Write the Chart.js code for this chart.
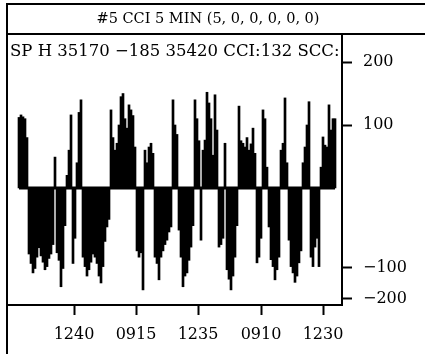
<!DOCTYPE html>
<html lang="en">
<head>
  <meta charset="UTF-8" />
  <title>#5 CCI 5 MIN</title>
  <script src="https://cdn.jsdelivr.net/npm/chart.js"></script>
  <style>
    * { margin: 0; padding: 0; box-sizing: border-box; }
    body { background: #fff; }
    canvas { display: block; }
  </style>
</head>
<body>
  <canvas id="cciChart" width="425" height="354"></canvas>

  <script>
    // one bar per 5 minute slot, in drawn units (the scale is squeezed below zero)
    const cciValues = [
      112, 116, 113, 110, 80, -105, -120, -135, -128, -110,
      -95, -108, -118, -130, -125, -112, -105, -90, 49, -103,
      -115, -157, -128, -60, 20, 60, 116, -120, -80, 40,
      120, 140, -110, -125, -140, -130, -118, -105, -110, -120,
      -140, -151, -125, -85, -62, -50, 124, 80, 60, 71,
      100, 145, 150, 110, 95, 132, 124, 115, 65, -100,
      -110, -103, -162, 60, 40, 65, 71, 55, -110, -120,
      -146, -110, -100, -90, -83, -70, -62, 140, 100, 85,
      -67, -110, -157, -140, -135, -115, -94, -60, 140, 110,
      75, -83, 60, 76, 152, 135, 110, 52, 148, 92,
      -94, -90, -80, 71, -130, -145, -162, -140, -110, -60,
      130, 75, 71, 65, 80, 60, 70, 95, 55, -119,
      -110, -80, 124, 110, 33, -62, -114, -125, -146, -130,
      -110, 60, 71, 143, 40, -83, -125, -135, -150, -140,
      -119, -100, 40, 65, 100, 137, -110, -125, -94, -80,
      -125, 33, 81, 68, 65, 132, 92, 110, 110
    ];

    const xTickPos = [27.5, 58.5, 89.5, 121, 152];
    const xTickLabels = ['1240', '0915', '1235', '0910', '1230'];

    const yTickPos = [200, 100, -127, -176];
    const yTickLabels = ['200', '100', '\u2212100', '\u2212200'];

    const headerText = 'SP H 35170 \u2212185 35420 CCI:132 SCC:';
    const titleText = '#5 CCI 5 MIN (5, 0, 0, 0, 0, 0)';

    const barData = cciValues.map((v, i) => ({ x: i, y: v }));
    const zeroLine = cciValues.map((v, i) => ({ x: i, y: 0 }));

    // frame, title box and the text line at the top of the plot
    const framePlugin = {
      id: 'frame',
      afterDraw(chart) {
        const ctx = chart.ctx;
        ctx.save();
        ctx.strokeStyle = '#000';
        ctx.lineWidth = 2;
        ctx.beginPath();
        ctx.moveTo(7, 354); ctx.lineTo(7, 4); ctx.lineTo(425, 4);
        ctx.moveTo(7, 34); ctx.lineTo(425, 34);
        ctx.stroke();

        ctx.fillStyle = '#000';
        ctx.textBaseline = 'middle';
        ctx.textAlign = 'center';
        ctx.font = '14.5px "DejaVu Serif"';
        ctx.fillText(titleText, 208, 19);

        ctx.textAlign = 'left';
        ctx.font = '16.5px "DejaVu Serif"';
        ctx.fillText(headerText, 10, 52);
        ctx.restore();
      }
    };

    new Chart(document.getElementById('cciChart').getContext('2d'), {
      data: {
        datasets: [
          {
            type: 'bar',
            data: barData,
            backgroundColor: '#000',
            borderWidth: 0,
            barPercentage: 1.0,
            categoryPercentage: 1.0,
            order: 2
          },
          {
            type: 'line',
            data: zeroLine,
            borderColor: '#000',
            borderWidth: 3,
            pointRadius: 0,
            order: 1
          }
        ]
      },
      options: {
        responsive: false,
        animation: false,
        devicePixelRatio: 1,
        layout: { padding: { left: 7, top: 35, right: 0, bottom: 0 } },
        plugins: {
          legend: { display: false },
          tooltip: { enabled: false }
        },
        scales: {
          x: {
            type: 'linear',
            offset: false,
            min: -6,
            max: 161.5,
            afterBuildTicks(scale) {
              scale.ticks = xTickPos.map(v => ({ value: v }));
            },
            afterFit(scale) { scale.height = 49; },
            ticks: {
              color: '#000',
              padding: 10,
              maxRotation: 0,
              font: { family: 'DejaVu Serif', size: 16 },
              callback: (v, i) => xTickLabels[i]
            },
            grid: { offset: false, drawOnChartArea: false, tickLength: 10, tickWidth: 2, color: '#000' },
            border: { display: true, color: '#000', width: 2 }
          },
          y: {
            position: 'right',
            min: -186,
            max: 243,
            afterBuildTicks(scale) {
              scale.ticks = yTickPos.map(v => ({ value: v }));
            },
            afterFit(scale) { scale.width = 83; },
            ticks: {
              color: '#000',
              padding: 11,
              font: { family: 'DejaVu Serif', size: 16 },
              callback: (v, i) => yTickLabels[i]
            },
            grid: { drawOnChartArea: false, tickLength: 10, tickWidth: 2, color: '#000' },
            border: { display: true, color: '#000', width: 2 }
          }
        }
      },
      plugins: [framePlugin]
    });
  </script>
</body>
</html>
